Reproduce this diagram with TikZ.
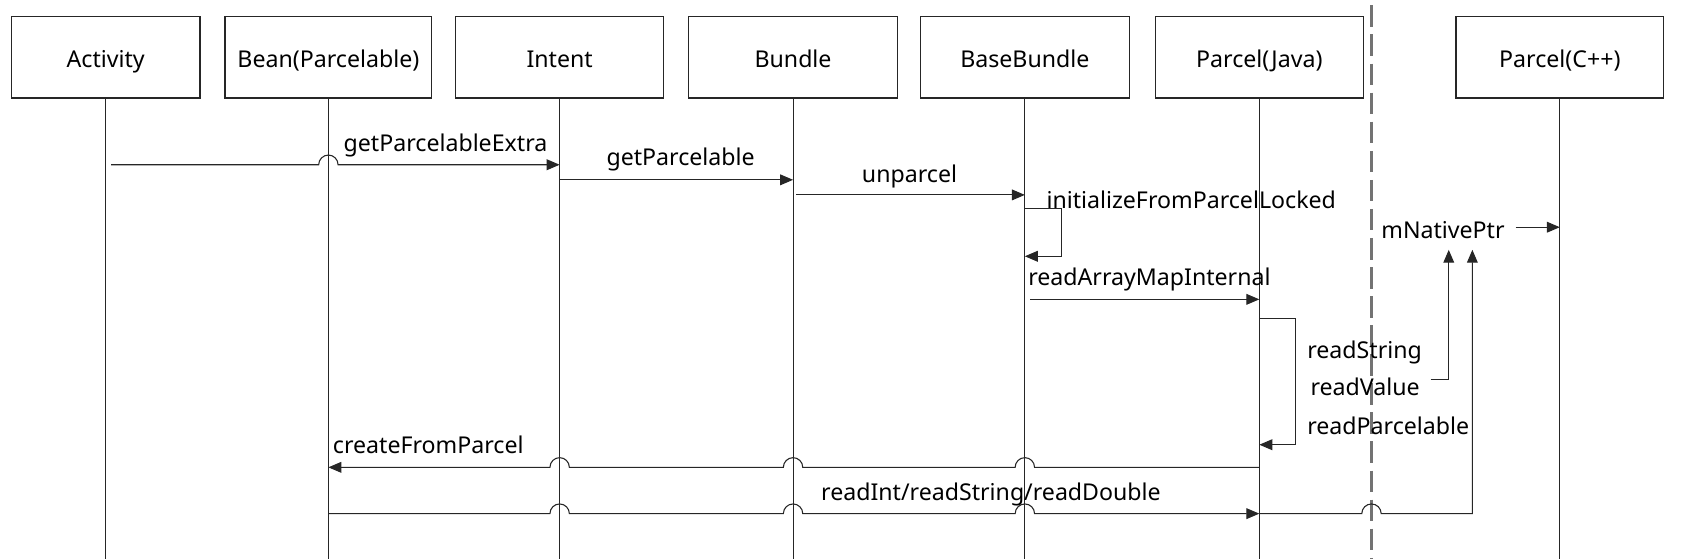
\documentclass[tikz,border=0pt]{standalone}
\usepackage{fontspec}
\setmainfont{Noto Sans}
\usetikzlibrary{arrows.meta}
\begin{document}
\begin{tikzpicture}[x=0.9966pt,y=-1pt,
  actor/.style={draw=black!85,line width=1.1pt,minimum height=76pt,inner sep=0pt,text height=23pt,text depth=3pt,font=\fontsize{21.5}{25}\selectfont},
  life/.style={draw=black!85,line width=1pt},
  msg/.style={draw=black!85,line width=1pt,-{Triangle[length=12pt,width=10pt]}},
  lbl/.style={anchor=west,inner sep=0pt,font=\fontsize{21.5}{25}\selectfont},
  dashln/.style={draw=black!55,line width=2pt,dash pattern=on 20pt off 7pt}]
\useasboundingbox (0,0) rectangle (1568.3,519);
% actors
\node[actor,minimum width=175pt] (act) at (98.5,53) {Activity};
\node[actor,minimum width=192pt] (bean) at (306,53) {Bean(Parcelable)};
\node[actor,minimum width=193pt] (intent) at (521.5,53) {Intent};
\node[actor,minimum width=194pt] (bundle) at (739,53) {Bundle};
\node[actor,minimum width=194pt] (base) at (955,53) {BaseBundle};
\node[actor,minimum width=193pt] (pj) at (1173.5,53) {Parcel(Java)};
\node[actor,minimum width=193pt] (pc) at (1453.5,53) {Parcel(C++)};
% lifelines
\foreach \n in {act,bean,intent,bundle,base,pj,pc}
  \draw[life] (\n.south) -- (\n.south |- 0,519);
% separator
\draw[dashln] (1278,5) -- (1278,519);
% labels
\node[lbl] (l1) at (320,135) {getParcelableExtra};
\node[lbl] (l2) at (565,148) {getParcelable};
\node[lbl] (l3) at (803,164) {unparcel};
\node[lbl] (l4) at (975,186) {initializeFromParcelLocked};
\node[lbl] (l5) at (958,260) {readArrayMapInternal};
\node[lbl] (rs) at (1218,327) {readString};
\node[lbl] (rv) at (1221,359) {readValue};
\node[lbl] (rp) at (1218,395) {readParcelable};
\node[lbl] (mnp) at (1287,214) {mNativePtr};
\node[lbl] (l6) at (310,413) {createFromParcel};
\node[lbl] (l7) at (765,459) {readInt/readString/readDouble};
% messages
\draw[msg] ([xshift=5pt]act.south |- 0,153) -- ([xshift=-9pt]bean.south |- 0,153)
  arc[start angle=180,end angle=0,radius=9pt] -- (intent.south |- 0,153);
\draw[msg] (intent.south |- 0,167) -- (bundle.south |- 0,167);
\draw[msg] ([xshift=3pt]bundle.south |- 0,181) -- (base.south |- 0,181);
\draw[msg] (base.south |- 0,194) -- ++(34,0) -- ++(0,44) -- (base.south |- 0,238);
\draw[msg] ([xshift=5pt]base.south |- 0,278) -- (pj.south |- 0,278);
\draw[msg] (pj.south |- 0,296) -- ++(34,0) -- ++(0,117) -- (pj.south |- 0,413);
\coordinate (up1) at (1350,232);
\coordinate (up2) at (1372,232);
\draw[msg] ([xshift=10pt]rv.east |- 0,352) -- (up1 |- 0,352) -- (up1);
\draw[msg] ([xshift=10pt]mnp.east |- 0,211) -- (pc.south |- 0,211);
\draw[msg] (pj.south |- 0,434) -- ([xshift=9pt]base.south |- 0,434)
  arc[start angle=0,end angle=180,radius=9pt] -- ([xshift=9pt]bundle.south |- 0,434)
  arc[start angle=0,end angle=180,radius=9pt] -- ([xshift=9pt]intent.south |- 0,434)
  arc[start angle=0,end angle=180,radius=9pt] -- (bean.south |- 0,434);
\draw[msg] (bean.south |- 0,477) -- ([xshift=-9pt]intent.south |- 0,477)
  arc[start angle=180,end angle=0,radius=9pt] -- ([xshift=-9pt]bundle.south |- 0,477)
  arc[start angle=180,end angle=0,radius=9pt] -- ([xshift=-9pt]base.south |- 0,477)
  arc[start angle=180,end angle=0,radius=9pt] -- (pj.south |- 0,477);
\draw[msg] (pj.south |- 0,477) -- ([xshift=-9pt]1278,477)
  arc[start angle=180,end angle=0,radius=9pt] -- (up2 |- 0,477) -- (up2);
\end{tikzpicture}
\end{document}
